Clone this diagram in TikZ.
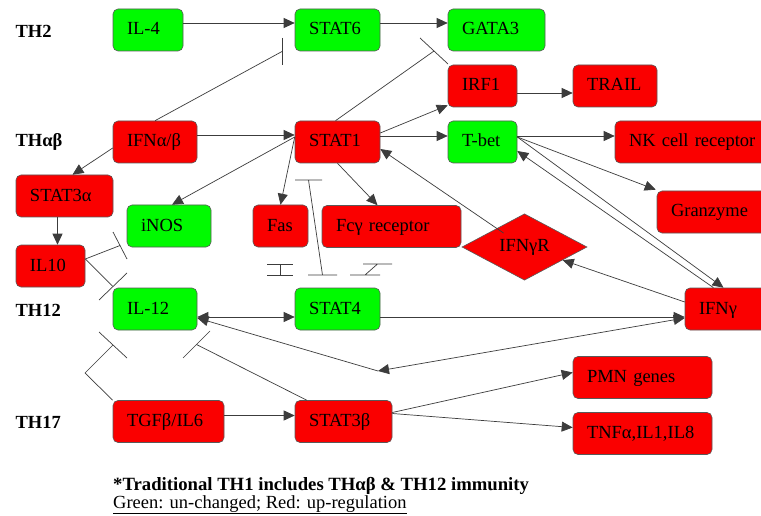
\documentclass[tikz,border=0pt]{standalone}
\usepackage{fontspec}
\setmainfont{Liberation Serif}
\usetikzlibrary{arrows.meta,shapes.geometric}
\definecolor{gr}{RGB}{0,250,0}
\definecolor{rd}{RGB}{250,0,0}
\definecolor{ln}{RGB}{60,60,60}
\begin{document}
\begin{tikzpicture}[x=1pt,y=-1pt,
  box/.style={draw=black!65, line width=0.6pt, rounded corners=5pt, minimum height=42pt,
    inner xsep=14pt, inner ysep=0pt, align=left, text height=13pt, text depth=3pt,
    font=\fontsize{18.5}{20}\selectfont},
  gbox/.style={box, fill=gr, text width=#1},
  rbox/.style={box, fill=rd, text width=#1},
  edge/.style={draw=ln, line width=0.7pt},
  arr/.style={edge, -{Triangle[length=11pt,width=10pt]}},
  darr/.style={edge, {Triangle[length=11pt,width=10pt]}-{Triangle[length=11pt,width=10pt]}},
  lbl/.style={anchor=west, font=\bfseries\fontsize{18.5}{20}\selectfont}
]
\useasboundingbox (0,0) rectangle (761,516);
\clip (0,0) rectangle (761,516);
\fill[white] (0,0) rectangle (761,516);

% row labels
\node[lbl] (th2) at (12,31) {TH2};
\node[lbl] (thab) at (12,142) {THαβ};
\node[lbl] (th12) at (12,310) {TH12};
\node[lbl] (th17) at (12,422) {TH17};

% nodes
\node[gbox=42pt] (IL4) at (148,30) {IL-4};
\node[gbox=57pt] (STAT6) at (337.5,30) {STAT6};
\node[gbox=69pt] (GATA3) at (496.5,30) {GATA3};
\node[rbox=41pt] (IRF1) at (482.5,86) {IRF1};
\node[rbox=56pt] (TRAIL) at (615,86) {TRAIL};
\node[gbox=41pt] (Tbet) at (482.5,142) {T-bet};
\node[rbox=137pt] (NK) at (697.5,142) {NK cell receptor};
\node[rbox=95pt] (Gran) at (718.5,212) {Granzyme};
\node[rbox=56pt] (IFNab) at (155,142) {IFNα/β};
\node[rbox=57pt] (STAT1) at (337.5,142) {STAT1};
\node[rbox=69pt] (STAT3a) at (64.5,196) {STAT3α};
\node[gbox=56pt] (iNOS) at (169,226) {iNOS};
\node[rbox=27pt] (Fas) at (280.5,226) {Fas};
\node[rbox=111pt] (Fc) at (391.5,226.5) {Fcγ receptor};
\node[diamond, draw=black!65, line width=0.6pt, fill=rd, inner sep=0pt,
      minimum width=125pt, minimum height=55pt,
      font=\fontsize{18.5}{20}\selectfont] (IFNgR) at (524.5,247) {IFNγR};
\node[rbox=41pt] (IL10) at (50.5,266) {IL10};
\node[gbox=56pt] (IL12) at (155,309) {IL-12};
\node[gbox=57pt] (STAT4) at (337.5,309) {STAT4};
\node[rbox=67pt] (IFNg) at (732.5,309) {IFNγ};
\node[rbox=83pt] (TGF) at (168.5,421.5) {TGFβ/IL6};
\node[rbox=69pt] (STAT3b) at (343.5,421.5) {STAT3β};
\node[rbox=111pt] (PMN) at (642.5,377.5) {PMN genes};
\node[rbox=111pt] (TNF) at (642.5,433.5) {TNFα,IL1,IL8};

% activating edges
\draw[arr] ([yshift=7pt]IL4.east) -- ([yshift=7pt]STAT6.west);
\draw[arr] ([yshift=7pt]STAT6.east) -- ([yshift=7pt]GATA3.west);
\draw[arr] ([yshift=7pt]IFNab.east) -- ([yshift=7pt]STAT1.west);
\draw[arr] ([yshift=-6pt]IFNab.west) -- ([xshift=8pt]STAT3a.north);
\draw[arr] ([xshift=-7pt]STAT3a.south) -- ([xshift=7pt]IL10.north);
\draw[arr] ([yshift=9pt]STAT1.east) -- ([yshift=2pt]IRF1.south west);
\draw[arr] ([yshift=6pt]STAT1.east) -- ([yshift=6pt]Tbet.west);
\draw[arr] ([yshift=-7pt]IRF1.east) -- ([yshift=-7pt]TRAIL.west);
\draw[arr] ([yshift=6pt]Tbet.east) -- ([yshift=6pt]NK.west);
\draw[arr] ([yshift=5pt]Tbet.east) -- ([xshift=-1pt,yshift=1pt]Gran.north west);
\draw[arr] ([yshift=5pt]Tbet.east) -- ([xshift=-9pt]IFNg.north);
\draw[arr] ([xshift=-19pt]IFNg.north) -- ([yshift=-9pt]Tbet.east);
\draw[arr] ([yshift=7pt]IFNg.west) -- (IFNgR);
\draw[arr] ([xshift=-21pt,yshift=14pt]IFNgR.center) -- ([yshift=-7pt]STAT1.east);
\draw[arr] ([yshift=5pt]STAT1.west) -- ([xshift=3pt]iNOS.north);
\draw[arr] ([yshift=5pt]STAT1.west) -- (Fas.north);
\draw[arr] (STAT1.south) -- ([xshift=-14pt]Fc.north);
\draw[darr] ([yshift=-8pt]IL12.east) -- ([yshift=-8pt]STAT4.west);
\draw[arr] ([yshift=-8pt]STAT4.east) -- ([yshift=-8pt]IFNg.west);
\coordinate (bend) at (378,371);
\draw[darr] ([yshift=-9pt]IFNg.west) -- (bend);
\draw[arr] (bend) -- ([yshift=-9pt]IL12.east);
\draw[arr] ([yshift=6pt]TGF.east) -- ([yshift=6pt]STAT3b.west);
\draw[arr] ([yshift=9pt]STAT3b.east) -- ([yshift=5pt]PMN.west);
\draw[arr] ([yshift=8pt]STAT3b.east) -- ([yshift=6pt]TNF.west);

% inhibitory edges
\coordinate (i1) at (282,51.5);
\draw[edge] (IFNab.north) -- (i1);
\draw[edge] (i1) +(0,-13.5) -- +(0,13.5);
\coordinate (i2) at (434,51);
\draw[edge] ([xshift=-2pt]STAT1.north) -- (i2);
\draw[edge] (i2) +(-14,-13) -- +(14,13);
\coordinate (i3) at (120,245.5);
\draw[edge] ([yshift=7pt]IL10.east) -- (i3);
\draw[edge] (i3) +(-7,-13.5) -- +(7,13.5);
\coordinate (i4) at (113,286.5);
\draw[edge] ([yshift=7pt]IL10.east) -- (i4);
\draw[edge] (i4) +(-14,13.5) -- +(14,-13.5);
\coordinate (i5a) at (85,373);
\coordinate (i5) at (113,345);
\draw[edge] (TGF.north west) -- (i5a) -- (i5);
\draw[edge] (i5) +(-14,-13) -- +(14,13);
\coordinate (i6) at (196.5,344.5);
\draw[edge] ([xshift=12pt]STAT3b.north west) -- (i6);
\draw[edge] (i6) +(-13.5,13.5) -- +(13.5,-13.5);

% small floating inhibition marks
\draw[edge] (267,264) -- (293,264) (267,275) -- (293,275) (280,264) -- (280,275);
\draw[edge] (295,180) -- (322,180) (308.5,180) -- (322.5,275) (308,275) -- (337,275);
\draw[edge] (363,264) -- (392,264) (350,275) -- (380,275) (365,275) -- (377.5,264);

% notes
\node[anchor=base west, font=\bfseries\fontsize{18.7}{20}\selectfont, inner sep=0pt] (note) at (113,490)
  {*Traditional TH1 includes THαβ \& TH12 immunity};
\node[anchor=base west, font=\fontsize{18.5}{20}\selectfont, inner sep=0pt] (legend) at (113,508)
  {\underline{Green: un-changed; Red: up-regulation}};
\end{tikzpicture}
\end{document}
